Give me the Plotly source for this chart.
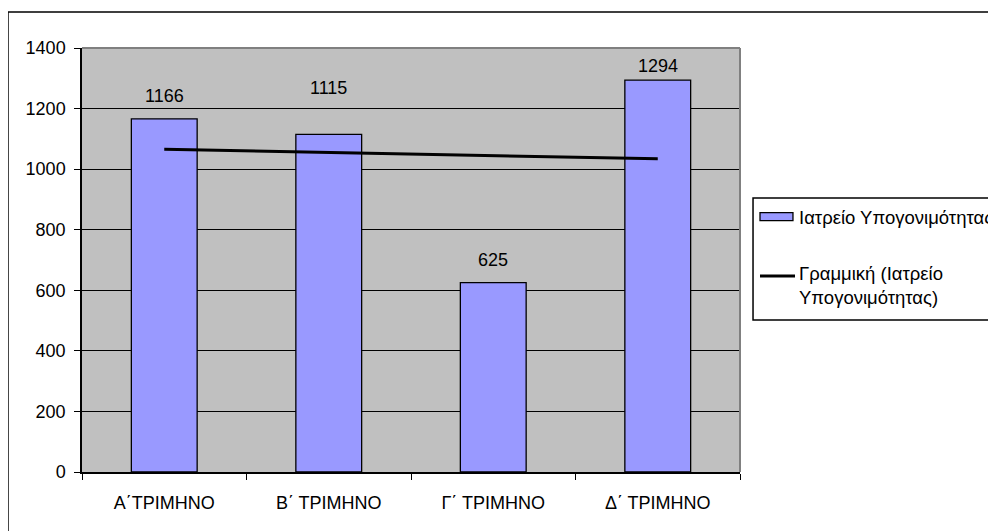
import numpy as np
import plotly.graph_objects as go

categories = ["Α΄ΤΡΙΜΗΝΟ", "Β΄ ΤΡΙΜΗΝΟ", "Γ΄ ΤΡΙΜΗΝΟ", "Δ΄ ΤΡΙΜΗΝΟ"]
values = [1166, 1115, 625, 1294]
label_shift = [23, 46, 23, 14]
series_name = "Ιατρείο Υπογονιμότητας"
trend_name = "Γραμμική (Ιατρείο<br>Υπογονιμότητας)"
y_ticks = [0, 200, 400, 600, 800, 1000, 1200, 1400]

# linear trendline (least squares over category index), as Excel does
idx = np.arange(1, len(values) + 1)
slope, intercept = np.polyfit(idx, values, 1)
trend = list(slope * idx + intercept)

FONT = "Liberation Sans, Arial, sans-serif"
BAR_COLOR = "#9999FF"

fig = go.Figure()
fig.add_trace(go.Bar(
    x=categories, y=values, name=series_name,
    marker=dict(color=BAR_COLOR, line=dict(color="black", width=1.3)),
    width=0.4, showlegend=False,
))
fig.add_trace(go.Scatter(
    x=categories, y=trend, name=trend_name, mode="lines",
    line=dict(color="black", width=3), showlegend=False,
))

for c, v, s in zip(categories, values, label_shift):
    fig.add_annotation(x=c, y=v, text=str(v), showarrow=False,
                       yanchor="middle", yshift=s,
                       font=dict(family=FONT, size=18, color="black"))

# outer chart border (extends past the right and bottom of the view)
fig.add_shape(type="rect", xref="paper", yref="paper",
              x0=-0.1125, x1=1.6, y0=-0.3, y1=1.085,
              line=dict(color="black", width=1.5), fillcolor="rgba(0,0,0,0)",
              layer="below")
# gray top/right edges of plot area
fig.add_shape(type="line", xref="paper", yref="paper", x0=0, x1=1, y0=1, y1=1,
              line=dict(color="#808080", width=2))
fig.add_shape(type="line", xref="paper", yref="paper", x0=1, x1=1, y0=0, y1=1,
              line=dict(color="#808080", width=2))

# legend (drawn by hand to match the Excel look)
fig.add_shape(type="rect", xref="paper", yref="paper",
              x0=1.0198, x1=1.6, y0=0.3585, y1=0.6462,
              line=dict(color="black", width=1.5), fillcolor="white")
fig.add_shape(type="rect", xref="paper", yref="paper",
              x0=1.0304, x1=1.0805, y0=0.5927, y1=0.6116,
              line=dict(color="black", width=1.3), fillcolor=BAR_COLOR)
fig.add_shape(type="line", xref="paper", yref="paper",
              x0=1.0304, x1=1.0836, y0=0.4623, y1=0.4623,
              line=dict(color="black", width=3))
fig.add_annotation(xref="paper", yref="paper", x=1.0866, y=0.6014,
                   text=series_name, showarrow=False,
                   xanchor="left", yanchor="middle", align="left",
                   font=dict(family=FONT, size=18.5, color="black"))
fig.add_annotation(xref="paper", yref="paper", x=1.0866, y=0.4399,
                   text=trend_name, showarrow=False,
                   xanchor="left", yanchor="middle", align="left",
                   font=dict(family=FONT, size=18.5, color="black"))

fig.update_layout(
    width=996, height=531,
    margin=dict(l=74, r=264, t=40, b=67, autoexpand=False),
    paper_bgcolor="white",
    plot_bgcolor="#C0C0C0",
    font=dict(family=FONT, size=18, color="black"),
    bargap=0.6,
    showlegend=False,
)
fig.update_xaxes(
    showline=True, linecolor="black", linewidth=1.5,
    ticks="outside", tickson="boundaries", ticklen=6, tickcolor="black",
    showgrid=False, tickfont=dict(size=18), ticklabelstandoff=14,
)
fig.update_yaxes(
    range=[0, 1400], tickvals=y_ticks,
    showline=True, linecolor="black", linewidth=1.5,
    ticks="outside", ticklen=6, tickcolor="black",
    showgrid=True, gridcolor="black", gridwidth=1.3,
    zeroline=False, tickfont=dict(size=18), ticklabelstandoff=5,
)

fig.write_html("out.html")
